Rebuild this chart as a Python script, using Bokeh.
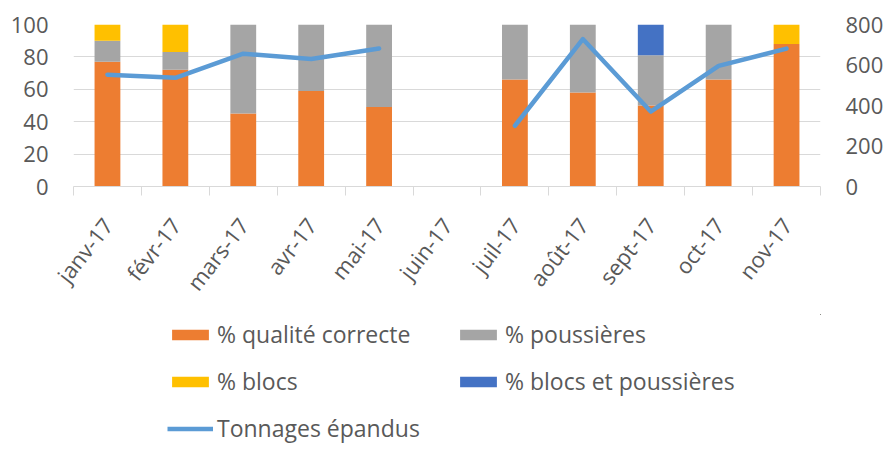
import math
from bokeh.plotting import figure
from bokeh.layouts import column
from bokeh.models import (ColumnDataSource, Range1d, LinearAxis, FixedTicker,
                          Legend, LegendItem, Grid)
from bokeh.embed import file_html
from bokeh.resources import INLINE

months = ["janv-17", "févr-17", "mars-17", "avr-17", "mai-17", "juin-17",
          "juil-17", "août-17", "sept-17", "oct-17", "nov-17"]
qualite_correcte = [77, 72, 45, 59, 49, 0, 66, 58, 50, 66, 88]
poussieres = [13, 11, 55, 41, 51, 0, 34, 42, 31, 34, 0]
blocs = [10, 17, 0, 0, 0, 0, 0, 0, 0, 0, 12]
blocs_et_poussieres = [0, 0, 0, 0, 0, 0, 0, 0, 19, 0, 0]
tonnages = [552, 537, 656, 630, 681, float("nan"), 300, 728, 370, 596, 681]
left_ticks = [0, 20, 40, 60, 80, 100]
right_ticks = [0, 200, 400, 600, 800]
series_labels = ["% qualité correcte", "% poussières", "% blocs",
                 "% blocs et poussières"]
line_label = "Tonnages épandus"

n = len(months)
centers = [i + 0.5 for i in range(n)]
bounds = [float(i) for i in range(n + 1)]

src = ColumnDataSource(dict(x=centers, c=qualite_correcte, p=poussieres,
                            b=blocs, bp=blocs_et_poussieres, t=tonnages))

FONT = "Open Sans"
TXT = "#595959"
GRID = "#D9D9D9"
colors = ["#ED7D31", "#A5A5A5", "#FFC000", "#4472C4"]
LINE = "#5B9BD5"

p = figure(width=886, height=449, x_range=Range1d(0, n),
           y_range=Range1d(0, 100), output_backend="svg", toolbar_location=None,
           min_border_left=73, min_border_right=66, min_border_top=24,
           min_border_bottom=263, outline_line_color=None, x_axis_type=None,
           y_axis_type=None)
p.extra_y_ranges = {"right": Range1d(0, 800)}

bars = p.vbar_stack(["c", "p", "b", "bp"], x="x", width=0.38, source=src,
                    color=colors, line_color=None)
ln = p.line("x", "t", source=src, y_range_name="right", line_width=4.5,
            line_color=LINE, line_join="round", line_cap="round")

yl = LinearAxis(ticker=FixedTicker(ticks=left_ticks))
yr = LinearAxis(ticker=FixedTicker(ticks=right_ticks), y_range_name="right")
for ax in (yl, yr):
    ax.axis_line_color = None
    ax.major_tick_line_color = None
    ax.minor_tick_line_color = None
    ax.major_tick_out = 0
    ax.minor_tick_out = 0
    ax.major_label_text_font = FONT
    ax.major_label_text_font_size = "22px"
    ax.major_label_text_color = TXT
    ax.major_label_standoff = 25
p.add_layout(yl, "left")
p.add_layout(yr, "right")

xa = LinearAxis(ticker=FixedTicker(ticks=centers, minor_ticks=bounds))
xa.major_label_overrides = {c: m for c, m in zip(centers, months)}
xa.axis_line_color = GRID
xa.major_tick_line_color = None
xa.major_tick_out = 0
xa.minor_tick_line_color = GRID
xa.minor_tick_out = 9
xa.minor_tick_in = 0
xa.major_label_orientation = math.radians(52)
xa.major_label_text_font = FONT
xa.major_label_text_font_size = "22px"
xa.major_label_text_color = TXT
xa.major_label_standoff = 25
p.add_layout(xa, "below")

p.add_layout(Grid(dimension=1, ticker=yl.ticker, grid_line_color=GRID))

# legend panel: a transparent figure pulled up under the axis labels; its
# renderers share the chart data but lie far outside its (empty) view ranges
lf = figure(width=886, height=130, x_range=Range1d(-100, -99),
            y_range=Range1d(-2, -1), output_backend="svg",
            toolbar_location=None, min_border=0, outline_line_color=None,
            x_axis_type=None, y_axis_type=None,
            background_fill_alpha=0, border_fill_alpha=0)
lf.grid.visible = False
lbars = lf.vbar_stack(["c", "p", "b", "bp"], x="x", width=0.38, source=src,
                      color=colors, line_color=None)
lline = lf.line("x", "t", source=src, line_width=4.5, line_color=LINE)

items = [LegendItem(label=series_labels[0], renderers=[lbars[0]]),
         LegendItem(label=series_labels[1], renderers=[lbars[1]]),
         LegendItem(label=series_labels[2], renderers=[lbars[2]]),
         LegendItem(label=series_labels[3], renderers=[lbars[3]]),
         LegendItem(label=line_label, renderers=[lline])]
legend = Legend(items=items, orientation="horizontal", ncols=2,
                location=(94, 0),
                label_text_font=FONT, label_text_font_size="23px",
                label_text_color=TXT, glyph_width=46, glyph_height=13,
                label_height=25, label_width=223, label_standoff=4,
                spacing=15, padding=0, margin=0, border_line_color=None,
                background_fill_alpha=0)
lf.add_layout(legend, "center")
lf.margin = (-135, 0, 0, 0)

layout = column(p, lf, spacing=0)
open("out.html", "w").write(file_html(layout, INLINE))
